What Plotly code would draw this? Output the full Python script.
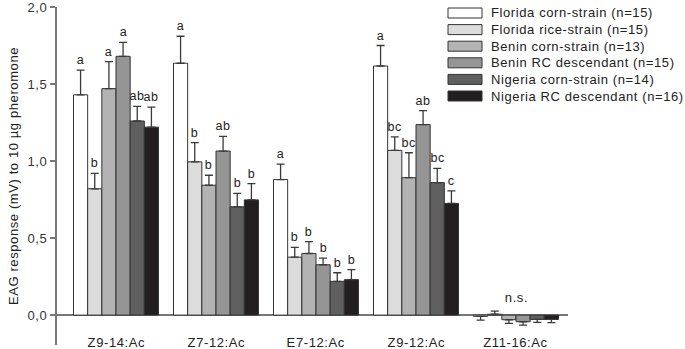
import plotly.graph_objects as go

categories = ["Z9-14:Ac", "Z7-12:Ac", "E7-12:Ac", "Z9-12:Ac", "Z11-16:Ac"]
series_names = [
    "Florida corn-strain (n=15)",
    "Florida rice-strain (n=15)",
    "Benin corn-strain (n=13)",
    "Benin RC descendant (n=15)",
    "Nigeria corn-strain (n=14)",
    "Nigeria RC descendant (n=16)",
]
colors = ["#ffffff", "#dcdcdc", "#b3b3b3", "#959595", "#5f5f5f", "#231f20"]

florida_corn = [1.43, 1.635, 0.88, 1.617, -0.008]
florida_rice = [0.82, 0.995, 0.376, 1.069, 0.006]
benin_corn = [1.47, 0.843, 0.40, 0.892, -0.030]
benin_rc = [1.68, 1.065, 0.327, 1.237, -0.043]
nigeria_corn = [1.26, 0.703, 0.219, 0.86, -0.028]
nigeria_rc = [1.22, 0.748, 0.23, 0.725, -0.028]

err_florida_corn = [0.16, 0.175, 0.10, 0.133, 0.024]
err_florida_rice = [0.10, 0.125, 0.064, 0.088, 0.020]
err_benin_corn = [0.175, 0.065, 0.077, 0.162, 0.024]
err_benin_rc = [0.09, 0.095, 0.043, 0.09, 0.022]
err_nigeria_corn = [0.095, 0.087, 0.056, 0.093, 0.019]
err_nigeria_rc = [0.13, 0.105, 0.065, 0.081, 0.021]

letters = [
    ["a", "b", "a", "a", "ab", "ab"],
    ["a", "b", "b", "ab", "b", "b"],
    ["a", "b", "b", "b", "b", "b"],
    ["a", "bc", "bc", "ab", "bc", "c"],
]
ns_label = "n.s."

values = [florida_corn, florida_rice, benin_corn, benin_rc, nigeria_corn, nigeria_rc]
errors = [err_florida_corn, err_florida_rice, err_benin_corn, err_benin_rc,
          err_nigeria_corn, err_nigeria_rc]

FONT = "Liberation Sans, Arial, sans-serif"
xpos = list(range(len(categories)))
bargap = 0.15
nser = len(series_names)
bw = (1 - bargap) / nser

fig = go.Figure()
for s in range(nser):
    v = values[s]
    e = errors[s]
    plus = [ei if vi >= 0 else 0 for vi, ei in zip(v, e)]
    minus = [ei if vi < 0 else 0 for vi, ei in zip(v, e)]
    fig.add_trace(go.Bar(
        x=xpos, y=v, name=series_names[s],
        marker=dict(color=colors[s], line=dict(color="#333333", width=1)),
        error_y=dict(type="data", symmetric=False, array=plus, arrayminus=minus,
                     color="#3a3a3a", thickness=1.3, width=4),
        showlegend=False,
    ))

annotations = []
for c in range(4):
    for s in range(nser):
        xa = c + (s - (nser - 1) / 2) * bw
        ya = values[s][c] + errors[s][c]
        annotations.append(dict(x=xa, y=ya, text=letters[c][s], showarrow=False,
                                xref="x", yref="y", yanchor="bottom", yshift=1,
                                font=dict(family=FONT, size=12.5, color="#222")))
annotations.append(dict(x=4, y=0.116, text=ns_label, showarrow=False, xref="x", yref="y",
                        font=dict(family=FONT, size=13, color="#222")))
for i, cat in enumerate(categories):
    annotations.append(dict(x=i, y=-0.18, text=cat, showarrow=False, xref="x", yref="y",
                            font=dict(family=FONT, size=13, color="#222")))

# manual legend with wide swatches
TOP = 7
PH = 349 - TOP - 4
shapes = []
leg_top = 13
leg_step = 16.6
for s in range(nser):
    yc = leg_top + s * leg_step
    shapes.append(dict(type="rect", xref="paper", yref="paper",
                       x0=(448 - 57) / 511, x1=(482 - 57) / 511,
                       y0=1 - (yc - 5 - TOP) / PH, y1=1 - (yc + 5 - TOP) / PH,
                       fillcolor=colors[s], line=dict(color="#333333", width=1)))
    annotations.append(dict(x=(488.5 - 57) / 511, y=1 - (yc - TOP) / PH, xref="paper", yref="paper",
                            text=series_names[s], showarrow=False, xanchor="left", align="left",
                            yanchor="middle",
                            font=dict(family=FONT, size=13, color="#222")))

fig.update_layout(
    width=685, height=349,
    margin=dict(l=57, r=117, t=TOP, b=4),
    paper_bgcolor="white", plot_bgcolor="white",
    barmode="group", bargap=bargap, bargroupgap=0,
    separators=", ",
    font=dict(family=FONT, size=13, color="#222"),
    annotations=annotations, shapes=shapes,
    showlegend=False,
)
fig.update_xaxes(range=[-0.59, 4.52], showticklabels=False, showgrid=False,
                 zeroline=False, showline=False, ticks="", automargin=False)
fig.update_yaxes(range=[-0.194, 2.0], tickvals=[0, 0.5, 1.0, 1.5, 2.0], tickformat=".1f",
                 showgrid=False, showline=True, linecolor="#777777", linewidth=2,
                 ticks="outside", ticklen=5, tickcolor="#777777", tickwidth=1.5,
                 zeroline=True, zerolinecolor="#777777", zerolinewidth=2,
                 automargin=False, ticklabeloverflow="allow",
                 tickfont=dict(family=FONT, size=13, color="#333"),
                 title=dict(text="EAG response (mV) to 10 µg pheromone",
                            font=dict(family=FONT, size=13, color="#222"), standoff=8))

post = (
    "document.body.style.margin='0';document.body.style.overflow='hidden';"
    "var st=document.createElement('style');"
    "st.innerHTML='.main-svg text{letter-spacing:0.6px}';"
    "document.head.appendChild(st);"
)
fig.write_html("out.html", config={"displayModeBar": False}, post_script=post)
